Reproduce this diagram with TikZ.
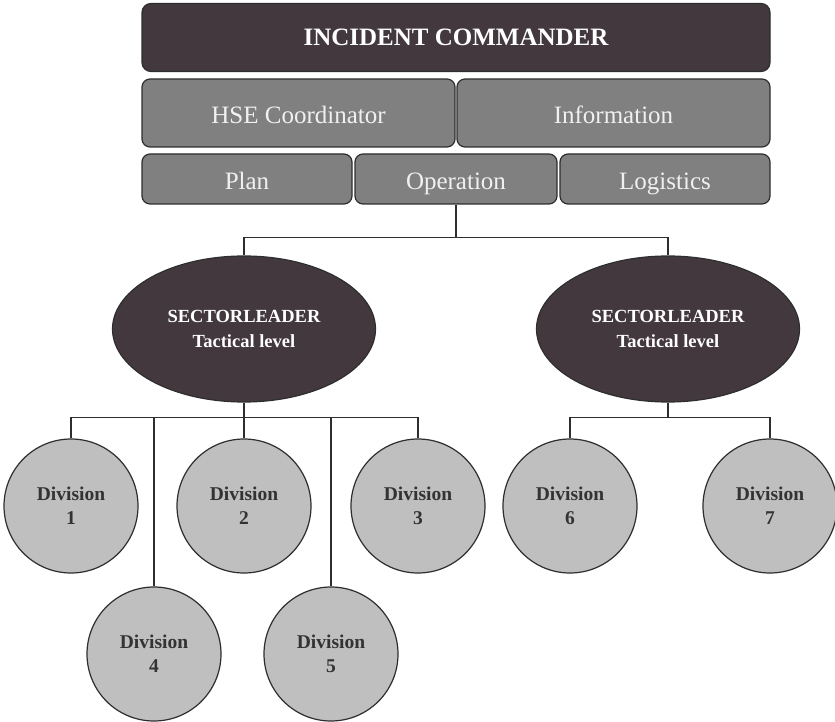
\documentclass[tikz,border=0pt]{standalone}
\usepackage{fontspec}
\setmainfont{Liberation Serif}
\usetikzlibrary{shapes.geometric}
\definecolor{darkfill}{HTML}{42383D}
\definecolor{midfill}{HTML}{808080}
\definecolor{lightfill}{HTML}{BFBFBF}
\definecolor{edgecol}{HTML}{2E2E2E}
\definecolor{divtext}{HTML}{333333}
\begin{document}
\begin{tikzpicture}[x=1pt, y=-1pt, line width=1.2pt,
    every node/.style={draw=edgecol, inner sep=0pt, align=center},
    topbox/.style={rectangle, rounded corners=9pt, fill=darkfill, text=white,
      minimum width=628pt, minimum height=68pt,
      font=\fontsize{25}{30}\selectfont\bfseries},
    rolebox/.style={rectangle, rounded corners=8pt, fill=midfill, text=white!94!black,
      minimum height=#1, text height=25pt, text depth=3pt,
      font=\fontsize{25}{30}\selectfont},
    sectorleader/.style={ellipse, fill=darkfill, text=white,
      minimum width=263pt, minimum height=146pt,
      font=\fontsize{18.5}{25}\selectfont\bfseries},
    division/.style={circle, fill=lightfill, text=divtext, minimum size=134pt,
      font=\fontsize{19.5}{24}\selectfont\bfseries}]
  \useasboundingbox (0,0) rectangle (835,722);
  \node[topbox] (ic) at (456,37.5) {INCIDENT COMMANDER};
  \node[rolebox=68pt, minimum width=313pt] (hse) at (298.5,113) {HSE Coordinator};
  \node[rolebox=68pt, minimum width=313pt] (info) at (613.5,113) {Information};
  \node[rolebox=50pt, minimum width=210pt] (plan) at (247,179) {Plan};
  \node[rolebox=50pt, minimum width=202pt] (oper) at (456,179) {Operation};
  \node[rolebox=50pt, minimum width=210pt] (logi) at (665,179) {Logistics};
  \node[sectorleader] (sec1) at (244,329) {SECTORLEADER\\Tactical level};
  \node[sectorleader] (sec2) at (668,329) {SECTORLEADER\\Tactical level};
  \node[division] (div1) at (71,506) {Division\\1};
  \node[division] (div2) at (244,506) {Division\\2};
  \node[division] (div3) at (418,506) {Division\\3};
  \node[division] (div4) at (154,654) {Division\\4};
  \node[division] (div5) at (331,654) {Division\\5};
  \node[division] (div6) at (570,506) {Division\\6};
  \node[division] (div7) at (770,506) {Division\\7};
  \begin{scope}[draw=edgecol]
    \draw (oper.south) -- ++(0,33) coordinate (opbus);
    \draw (sec1.north) |- (opbus) -| (sec2.north);
    \draw (sec1.south) -- ++(0,15) coordinate (bus1) -- (div2.north);
    \draw (div1.north) |- (bus1) -| (div3.north);
    \draw (div4.north) -- (div4.north |- bus1);
    \draw (div5.north) -- (div5.north |- bus1);
    \draw (sec2.south) -- ++(0,15) coordinate (bus2);
    \draw (div6.north) |- (bus2) -| (div7.north);
  \end{scope}
\end{tikzpicture}
\end{document}
